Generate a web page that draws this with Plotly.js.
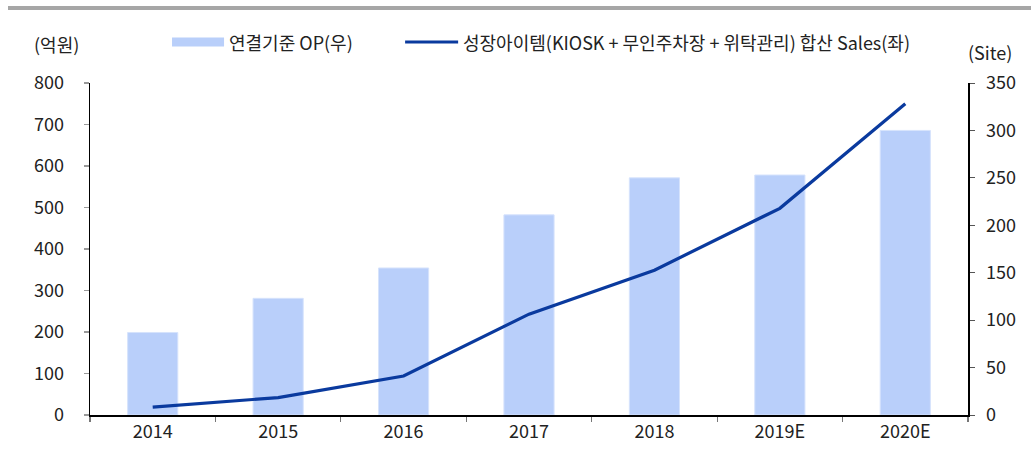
<!DOCTYPE html>
<html>
<head>
<meta charset="utf-8">
<script src="https://cdn.plot.ly/plotly-3.0.1.min.js"></script>
<style>
  html, body { margin: 0; padding: 0; background: #fff; }
  #wrap { position: relative; width: 1031px; height: 454px; }
  #topline { position: absolute; left: 8px; right: 0; top: 6px; height: 4px; background: #a6a6a6; z-index: 5; }
  #chart { position: absolute; left: 0; top: 0; width: 1031px; height: 454px; }
</style>
</head>
<body>
<div id="wrap">
  <div id="chart"></div>
  <div id="topline"></div>
</div>
<script>
// ---- data ----
const categories = ['2014', '2015', '2016', '2017', '2018', '2019E', '2020E'];
// 연결기준 OP (우, right axis)
const opValues = [87, 123, 155, 211, 250, 253, 300];
// 성장아이템 합산 Sales (좌, left axis)
const salesValues = [19, 42, 94, 243, 349, 498, 750];
const leftTicks = [0, 100, 200, 300, 400, 500, 600, 700, 800];
const rightTicks = [0, 50, 100, 150, 200, 250, 300, 350];
const barName = '연결기준 OP(우)';
const lineName = '성장아이템(KIOSK + 무인주차장 + 위탁관리) 합산 Sales(좌)';
const leftUnit = '(억원)';
const rightUnit = '(Site)';

const FONT = '"Liberation Sans Narrow", "Arial Narrow", "Noto Sans CJK KR", sans-serif';
const TXT = '#222222';
const BAR_COLOR = '#b9cffa';
const LINE_COLOR = '#0a3a9e';

const traces = [
  {
    type: 'bar', x: categories, y: opValues, name: barName,
    xaxis: 'x', yaxis: 'y',
    marker: { color: BAR_COLOR, line: { color: '#d6e3fc', width: 1 } },
    width: 0.4, hoverinfo: 'x+y'
  },
  {
    type: 'scatter', mode: 'lines', x: categories, y: salesValues, name: lineName,
    xaxis: 'x', yaxis: 'y2',
    line: { color: LINE_COLOR, width: 3.2 }, hoverinfo: 'x+y'
  }
];

// paper-coordinate helpers for the manual legend (plot area: x 90..967.7, y 83..415)
const W = 877.7, H = 332;
const px = v => (v - 90) / W;
const py = v => (415 - v) / H;

const layout = {
  width: 1031, height: 454,
  margin: { l: 90, r: 63, t: 83, b: 39, pad: 0 },
  paper_bgcolor: '#ffffff', plot_bgcolor: '#ffffff',
  showlegend: false,
  font: { family: FONT, size: 18, color: TXT },
  bargap: 0.6,
  xaxis: {
    type: 'category',
    showline: true, linecolor: '#000000', linewidth: 1.5,
    ticks: 'outside', tickson: 'boundaries', ticklen: 5, tickcolor: '#777777', tickwidth: 1.2,
    showgrid: false, zeroline: false,
    tickfont: { family: FONT, size: 18, color: TXT },
    range: [-0.5, 6.5], fixedrange: true
  },
  yaxis: {
    side: 'right',
    range: [0, 350], tickvals: rightTicks, ticktext: rightTicks.map(String),
    showline: true, linecolor: '#000000', linewidth: 1.5,
    ticks: 'outside', ticklen: 5, tickcolor: '#555555', tickwidth: 1,
    showgrid: false, zeroline: false,
    tickfont: { family: FONT, size: 18, color: TXT },
    ticklabelstandoff: 8, fixedrange: true
  },
  yaxis2: {
    side: 'left', overlaying: 'y',
    range: [0, 800], tickvals: leftTicks, ticktext: leftTicks.map(String),
    showline: true, linecolor: '#000000', linewidth: 1.5,
    ticks: 'outside', ticklen: 5, tickcolor: '#999999', tickwidth: 1.5,
    showgrid: false, zeroline: false,
    tickfont: { family: FONT, size: 18, color: TXT },
    ticklabelstandoff: 16, fixedrange: true
  },
  shapes: [
    { type: 'rect', xref: 'paper', yref: 'paper', x0: px(172), x1: px(224), y0: py(46.5), y1: py(37.5),
      fillcolor: BAR_COLOR, line: { width: 0 } },
    { type: 'line', xref: 'paper', yref: 'paper', x0: px(405), x1: px(458), y0: py(42), y1: py(42),
      line: { color: LINE_COLOR, width: 3 } }
  ],
  annotations: [
    { xref: 'paper', yref: 'paper', x: px(227), y: py(42), xanchor: 'left', yanchor: 'middle',
      text: barName, showarrow: false, font: { family: FONT, size: 18, color: TXT } },
    { xref: 'paper', yref: 'paper', x: px(461), y: py(42), xanchor: 'left', yanchor: 'middle',
      text: lineName, showarrow: false, font: { family: FONT, size: 18, color: TXT } },
    { xref: 'paper', yref: 'paper', x: px(57), y: py(44), xanchor: 'center', yanchor: 'middle',
      text: leftUnit, showarrow: false, font: { family: FONT, size: 18, color: TXT } },
    { xref: 'paper', yref: 'paper', x: px(990), y: py(52), xanchor: 'center', yanchor: 'middle',
      text: rightUnit, showarrow: false, font: { family: FONT, size: 18, color: TXT } }
  ]
};

Plotly.newPlot('chart', traces, layout, { displayModeBar: false, staticPlot: true });
</script>
</body>
</html>
